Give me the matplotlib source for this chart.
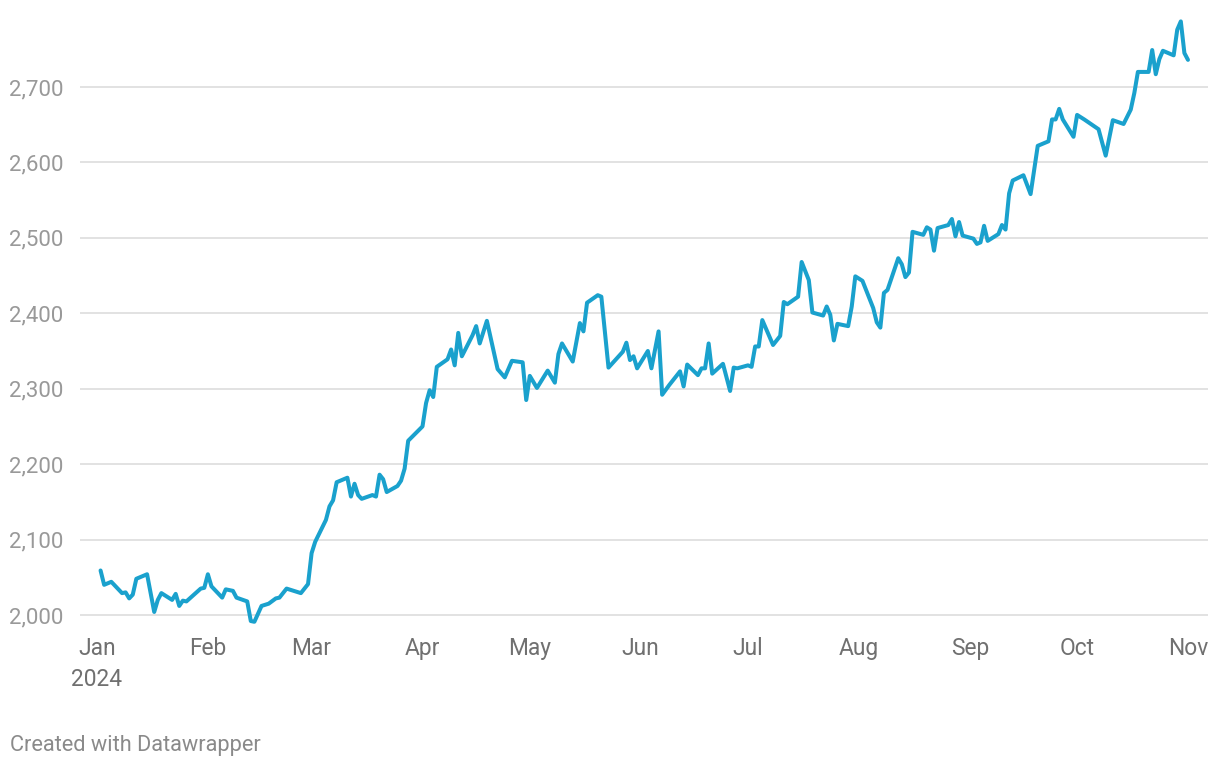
import pandas as pd
import matplotlib
matplotlib.use('Agg')
import matplotlib.pyplot as plt
from matplotlib.ticker import FuncFormatter

# day of year (0 = Jan 1, 2024) and value
days = [1, 2, 4, 7, 8, 9, 10, 11, 14, 16, 17, 18, 21, 22, 23, 24, 25, 29, 30, 31,
        32, 35, 36, 38, 39, 42, 43, 44, 46, 48, 50, 51, 53, 57, 59,
        60, 61, 64, 65, 66, 67, 70, 71, 72, 73, 74, 77, 78, 79, 80, 81, 84, 85, 86, 87,
        91, 92, 93, 94, 95, 98, 99, 100, 101, 102, 105, 106, 107, 109,
        112, 114, 116, 119, 120, 121, 123, 126, 128, 129, 130, 133, 135, 136, 137,
        140, 141, 143, 147, 148, 149, 150, 151, 154, 155, 157, 158, 160,
        163, 164, 165, 168, 169, 170, 171, 172, 175, 177, 178, 179, 182, 183, 184, 185,
        186, 189, 191, 192, 193, 196, 197, 199, 200, 203, 204, 205, 206, 207, 210,
        211, 212, 214, 217, 218, 219, 220, 221, 224, 225, 226, 227, 228, 231, 232,
        233, 234, 235, 238, 239, 240, 241, 242, 245, 246, 247, 248, 249, 252, 253,
        254, 255, 256, 259, 261, 263, 266, 267, 268, 269, 270, 273, 274, 276, 280,
        282, 284, 287, 289, 290, 291, 294, 295, 296, 297, 298, 301, 302, 303, 304, 305]
values = [2059, 2040, 2044, 2029, 2030, 2022, 2027, 2048, 2054, 2004, 2020, 2029, 2020, 2028, 2012, 2019, 2018, 2035, 2036, 2054,
          2038, 2023, 2034, 2032, 2023, 2018, 1992, 1991, 2012, 2015, 2022, 2023, 2035, 2029, 2041,
          2082, 2097, 2126, 2144, 2152, 2176, 2182, 2157, 2174, 2159, 2154, 2159, 2157, 2186, 2180, 2163, 2171, 2178, 2194, 2231,
          2250, 2281, 2298, 2289, 2329, 2339, 2352, 2331, 2374, 2343, 2371, 2383, 2360, 2390,
          2326, 2315, 2337, 2335, 2285, 2317, 2301, 2324, 2308, 2346, 2360, 2336, 2387, 2376, 2414,
          2424, 2422, 2328, 2349, 2361, 2338, 2343, 2327, 2350, 2327, 2376, 2292, 2305,
          2323, 2303, 2332, 2318, 2327, 2327, 2360, 2320, 2333, 2297, 2328, 2327, 2331, 2329, 2356, 2356,
          2391, 2358, 2370, 2415, 2412, 2422, 2468, 2444, 2401, 2397, 2409, 2398, 2364, 2386, 2383,
          2409, 2449, 2443, 2407, 2388, 2381, 2427, 2431, 2473, 2465, 2448, 2454, 2508, 2504, 2514,
          2511, 2483, 2513, 2517, 2525, 2502, 2521, 2503, 2499, 2492, 2494, 2516, 2496, 2505, 2517,
          2511, 2559, 2576, 2583, 2558, 2622, 2628, 2657, 2657, 2671, 2657, 2634, 2663, 2657, 2644,
          2609, 2656, 2651, 2670, 2692, 2720, 2720, 2749, 2717, 2737, 2748, 2742, 2776, 2787, 2745, 2736]

month_ticks = ['2024-01-01', '2024-02-01', '2024-03-01', '2024-04-01', '2024-05-01', '2024-06-01',
               '2024-07-01', '2024-08-01', '2024-09-01', '2024-10-01', '2024-11-01']
month_labels = ['Jan\n2024', 'Feb', 'Mar', 'Apr', 'May', 'Jun', 'Jul', 'Aug', 'Sep', 'Oct', 'Nov']
y_ticks = [2000, 2100, 2200, 2300, 2400, 2500, 2600, 2700]

dates = pd.Timestamp('2024-01-01') + pd.to_timedelta(days, unit='D')

plt.rcParams['font.family'] = ['Roboto', 'DejaVu Sans']

fig = plt.figure(figsize=(12.2, 7.68), dpi=100)
ax = fig.add_axes([80 / 1220, 0.1845, 1128 / 1220, 0.7906])

ax.plot(dates, values, color='#1aa1cd', linewidth=2.9, solid_joinstyle='round',
        solid_capstyle='round', zorder=3)

start = pd.Timestamp('2024-01-01')
ax.set_xlim(start - pd.Timedelta(days=4.75), start + pd.Timedelta(days=310.6))
ax.set_ylim(1985, 2790)

ax.set_yticks(y_ticks)
ax.yaxis.set_major_formatter(FuncFormatter(lambda v, p: f'{int(v):,}'))
ax.set_xticks(pd.to_datetime(month_ticks))
ax.set_xticklabels(month_labels, linespacing=1.4)

ax.grid(axis='y', color='#e2e2e2', linewidth=1.4, zorder=0)
ax.grid(axis='x', visible=False)
for s in ax.spines.values():
    s.set_visible(False)
ax.tick_params(axis='both', length=0)
ax.tick_params(axis='y', labelsize=16, labelcolor='#999999', pad=12)
ax.tick_params(axis='x', labelsize=16.4, labelcolor='#707070', pad=8)

fig.text(10 / 1220, 1 - 745 / 768, 'Created with Datawrapper', fontsize=15.7,
         color='#8a8a8a', va='center', ha='left')

fig.savefig('out.png', dpi=100)
